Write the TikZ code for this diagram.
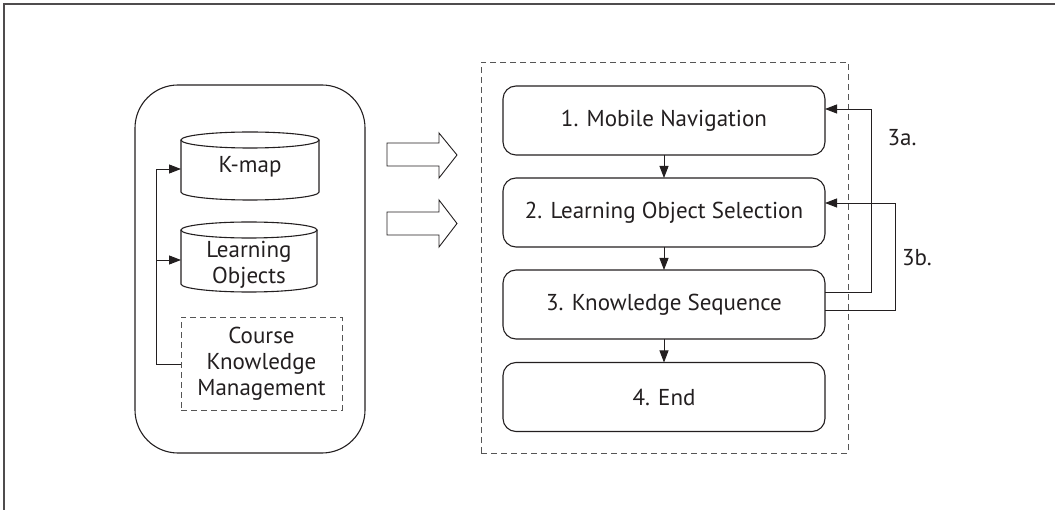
\documentclass[tikz,border=0pt]{standalone}
\usepackage{fontspec}
\setmainfont{PT Sans}
\usetikzlibrary{arrows.meta}
\definecolor{ink}{HTML}{231F20}
\definecolor{dash}{HTML}{555555}
\begin{document}
\begin{tikzpicture}[x=1pt,y=-1pt,
  every node/.style={font=\fontsize{23}{28}\selectfont, text=ink, outer sep=0pt, inner sep=0pt, align=center},
  leftfont/.style={font=\fontsize{23}{26}\selectfont},
  stepbox/.style={draw=ink, line width=1.1pt, rounded corners=13pt, minimum width=322pt, minimum height=69pt},
  dashbox/.style={draw=dash, line width=0.9pt, dash pattern=on 6pt off 4pt},
  conn/.style={draw=ink, line width=0.9pt, -{Triangle[length=12pt,width=9pt]}},
  plain/.style={draw=ink, line width=0.9pt},
  blockarrow/.style={draw=ink, line width=0.9pt, fill=white}
]
\useasboundingbox (0,0) rectangle (1055,510);
% frame
\draw[line width=1.2pt, draw=ink!80] (1055,4) -- (4,4) -- (4,510);

% left group
\node[draw=ink, line width=1.1pt, rounded corners=43pt, minimum width=230pt, minimum height=368pt] (left) at (250,269) {};

% K-map cylinder
\node[minimum width=138pt, minimum height=68pt] (kmap) at (250,166) {};
\node[leftfont] (kmaptext) at (250,167) {K-map};
\draw[draw=ink, line width=1.1pt] ([yshift=-8pt]kmap.north) ellipse [x radius=69pt, y radius=8pt];
\draw[draw=ink, line width=1.1pt] ([yshift=-8pt]kmap.north west) -- ([yshift=8pt]kmap.south west)
   arc[start angle=180, end angle=360, x radius=69pt, y radius=8pt] -- ([yshift=-8pt]kmap.north east);

% Learning Objects cylinder
\node[minimum width=136pt, minimum height=70pt] (lo) at (249,257) {};
\node[leftfont] (lotext) at (249,265) {Learning\\Objects};
\draw[draw=ink, line width=1.1pt] ([yshift=-8pt]lo.north) ellipse [x radius=68pt, y radius=8pt];
\draw[draw=ink, line width=1.1pt] ([yshift=-8pt]lo.north west) -- ([yshift=8pt]lo.south west)
   arc[start angle=180, end angle=360, x radius=68pt, y radius=8pt] -- ([yshift=-8pt]lo.north east);

% Course Knowledge Management
\node[dashbox, leftfont, minimum width=161pt, minimum height=93pt] (ckm) at (261.5,364) {Course\\Knowledge\\Management};

% connectors on the left
\coordinate (jbot) at (156,364);
\coordinate (jk) at (156,169);
\coordinate (jl) at (156,260);
\draw[plain] (ckm.west) -- (jbot) -- (jk);
\draw[conn] (jk) -- (jk -| kmap.west);
\draw[conn] (jl) -- (jl -| lo.west);

% block arrows
\draw[blockarrow] (387,143) -- (439,143) -- (439,133) -- (457,155) -- (439,178) -- (439,166) -- (387,166) -- cycle;
\draw[blockarrow] (387,212) -- (439,212) -- (439,200) -- (457,223.5) -- (439,247) -- (439,235) -- (387,235) -- cycle;

% right group
\node[dashbox, minimum width=367pt, minimum height=391pt] (right) at (664.5,257.5) {};
\node[stepbox] (b1) at (664,120.5) {1. Mobile Navigation};
\node[stepbox] (b2) at (664,212.5) {2. Learning Object Selection};
\node[stepbox] (b3) at (664,304.5) {3. Knowledge Sequence};
\node[stepbox] (b4) at (664,397) {4. End};

\draw[conn] (b1) -- (b2);
\draw[conn] (b2) -- (b3);
\draw[conn] (b3) -- (b4);

% feedback loops
\coordinate (a3top) at (871,109);
\coordinate (b3top) at (895,203);
\draw[conn] ([yshift=12.5pt]b3.east) -| (a3top) -- (a3top -| b1.east);
\draw[conn] ([yshift=-5.5pt]b3.east) -| (b3top) -- (b3top -| b2.east);
\node (l3a) at (902,138) {3a.};
\node (l3b) at (917,258) {3b.};
\end{tikzpicture}
\end{document}
